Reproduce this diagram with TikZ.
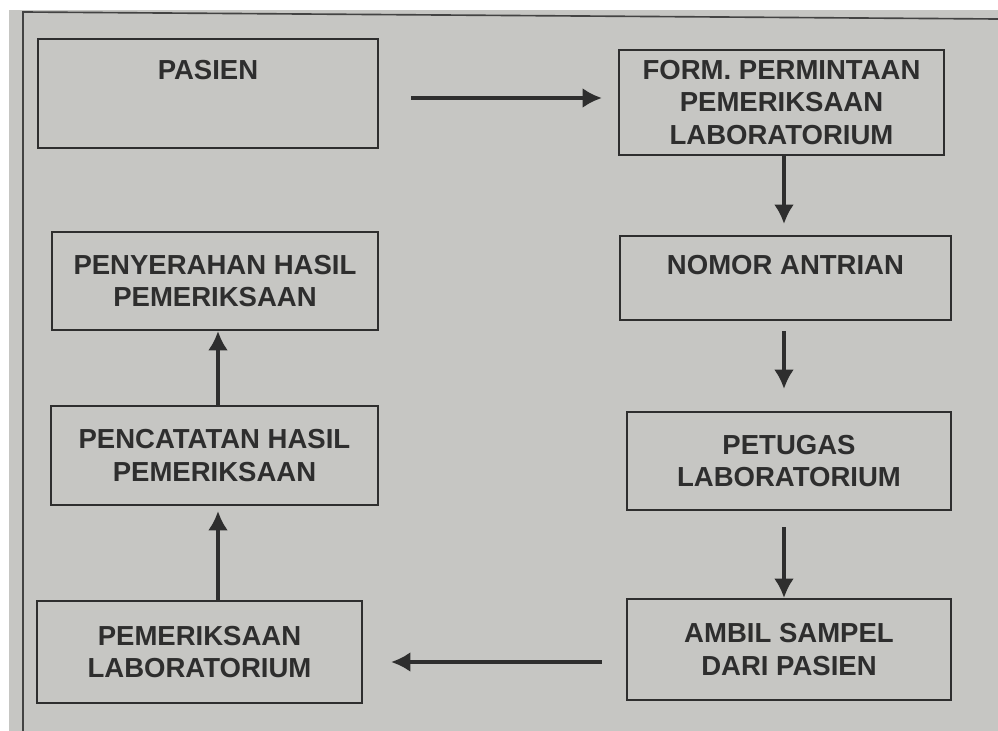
\documentclass[tikz,border=0pt]{standalone}
\usepackage{fontspec}
\setmainfont{Liberation Sans}
\usepackage{xcolor}
\definecolor{kertas}{RGB}{198,198,195}
\definecolor{tinta}{RGB}{46,46,46}
\usepackage{tikz}
\usetikzlibrary{arrows.meta,calc,positioning}
\tikzstyle{box}  =[rectangle, draw=tinta, line width=1.9pt,
                   text=tinta, align=center, inner sep=0pt,
                   font=\fontsize{23.5}{28}\selectfont\bfseries]
\tikzstyle{flow} =[draw=tinta, line width=2.8pt,
                   -{Latex[length=0.58cm,width=0.6cm]}]
\tikzstyle{rule} =[draw=tinta!90, line width=1.4pt]

\begin{document}
\begin{tikzpicture}[x=0.03cm,y=-0.03cm]

    % kertas
    \fill[white] (0,0) rectangle (998,731);
    \fill[kertas] (9,10) rectangle (998,731);
    \useasboundingbox (0,0) rectangle (998,731);
    \draw[rule] (23,11) -- (23,731);
    \draw[rule] (23,12) -- (998,19);

    % kotak
    \draw (208,93.5) node (pasien) [box, minimum width=10.2cm, minimum height=3.27cm,
        text height=0.57cm, text depth=1.41cm] {PASIEN};
    \draw (781.5,102.5) node (form) [box, minimum width=9.75cm, minimum height=3.15cm]
        {FORM. PERMINTAAN\\PEMERIKSAAN\\LABORATORIUM};
    \draw (785.5,278) node (nomor) [box, minimum width=9.93cm, minimum height=2.52cm,
        text height=0.57cm, text depth=0.78cm] {NOMOR ANTRIAN};
    \draw (789,461) node (petugas) [box, minimum width=9.72cm, minimum height=2.94cm]
        {PETUGAS\\LABORATORIUM};
    \draw (789,649.5) node (ambil) [box, minimum width=9.72cm, minimum height=3.03cm]
        {AMBIL SAMPEL\\DARI PASIEN};
    \draw (199.5,652) node (periksa) [box, minimum width=9.75cm, minimum height=3.06cm]
        {PEMERIKSAAN\\LABORATORIUM};
    \draw (214.5,455.5) node (catat) [box, minimum width=9.81cm, minimum height=2.97cm]
        {PENCATATAN HASIL\\PEMERIKSAAN};
    \draw (215,281) node (serah) [box, minimum width=9.78cm, minimum height=2.94cm]
        {PENYERAHAN HASIL\\PEMERIKSAAN};

    % alur
    \coordinate (atas) at (500,98);
    \coordinate (bawah) at (500,662);
    \coordinate (kanan) at (784,0);
    \coordinate (kiri) at (218,0);

    \draw [flow, shorten <=0.96cm, shorten >=0.48cm] (pasien.east |- atas) -- (form.west |- atas);
    \foreach \i/\j/\s/\t in {form/nomor/0/11, nomor/petugas/10/22, petugas/ambil/16/0}
        \draw [flow, shorten <=\s*0.03cm, shorten >=\t*0.03cm] (\i.south -| kanan) -- (\j.north -| kanan);
    \draw [flow, shorten <=0.72cm, shorten >=0.84cm] (ambil.west |- bawah) -- (periksa.east |- bawah);
    \foreach \i/\j/\t in {periksa/catat/5, catat/serah/0}
        \draw [flow, shorten >=\t*0.03cm] (\i.north -| kiri) -- (\j.south -| kiri);

\end{tikzpicture}
\end{document}
